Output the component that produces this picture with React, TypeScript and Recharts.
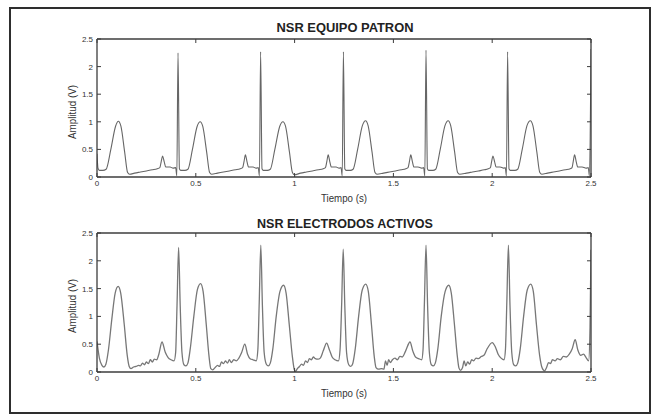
import { LineChart, Line, XAxis, YAxis } from "recharts";

// Tiempo (s) / Amplitud (V) ticks
const timeTicks = [0, 0.5, 1, 1.5, 2, 2.5];
const ampTicks = [0, 0.5, 1, 1.5, 2, 2.5];

// [tiempo, amplitud] - NSR EQUIPO PATRON
const patronPoints: [number, number][] = [
  [0.0, 0.42], [0.005, 0.16], [0.012, 0.12], [0.03, 0.12], [0.046, 0.14], [0.07, 0.5],
  [0.094, 0.92], [0.108, 1.01], [0.121, 0.92], [0.14, 0.45], [0.155, 0.08], [0.165, 0.05],
  [0.19, 0.07], [0.22, 0.09], [0.25, 0.11], [0.28, 0.13], [0.305, 0.15], [0.318, 0.17],
  [0.325, 0.28], [0.332, 0.38], [0.34, 0.28], [0.348, 0.18], [0.37, 0.18], [0.385, 0.16],
  [0.398, 0.17], [0.404, 0.02], [0.41, 2.25], [0.417, 0.15], [0.424, 0.12],

  [0.445, 0.12], [0.46, 0.14], [0.483, 0.5], [0.507, 0.92], [0.522, 1.0], [0.535, 0.92],
  [0.555, 0.45], [0.57, 0.08], [0.58, 0.05], [0.61, 0.07], [0.64, 0.09], [0.67, 0.11],
  [0.7, 0.13], [0.725, 0.15], [0.737, 0.17], [0.744, 0.28], [0.751, 0.4], [0.759, 0.28],
  [0.767, 0.18], [0.79, 0.18], [0.805, 0.16], [0.816, 0.17], [0.822, 0.02], [0.828, 2.27],
  [0.835, 0.15], [0.842, 0.12],

  [0.862, 0.12], [0.877, 0.14], [0.9, 0.5], [0.925, 0.92], [0.941, 1.0], [0.954, 0.92],
  [0.974, 0.45], [0.989, 0.08], [0.999, 0.04], [1.03, 0.07], [1.06, 0.09], [1.09, 0.11],
  [1.12, 0.13], [1.145, 0.15], [1.156, 0.17], [1.163, 0.28], [1.17, 0.4], [1.178, 0.28],
  [1.186, 0.18], [1.21, 0.18], [1.225, 0.16], [1.235, 0.17], [1.241, 0.02], [1.247, 2.27],
  [1.254, 0.15], [1.261, 0.12],

  [1.282, 0.12], [1.296, 0.14], [1.319, 0.5], [1.343, 0.93], [1.359, 1.02], [1.372, 0.93],
  [1.392, 0.45], [1.407, 0.08], [1.417, 0.05], [1.45, 0.07], [1.48, 0.09], [1.51, 0.11],
  [1.54, 0.13], [1.563, 0.15], [1.574, 0.17], [1.581, 0.28], [1.588, 0.4], [1.596, 0.28],
  [1.604, 0.18], [1.625, 0.18], [1.643, 0.16], [1.653, 0.17], [1.659, 0.02], [1.665, 2.3],
  [1.672, 0.15], [1.679, 0.12],

  [1.7, 0.12], [1.714, 0.14], [1.737, 0.5], [1.761, 0.93], [1.777, 1.02], [1.79, 0.93],
  [1.81, 0.45], [1.825, 0.08], [1.835, 0.05], [1.87, 0.07], [1.9, 0.09], [1.93, 0.11],
  [1.96, 0.13], [1.98, 0.15], [1.991, 0.17], [1.997, 0.28], [2.004, 0.38], [2.012, 0.28],
  [2.02, 0.18], [2.04, 0.18], [2.058, 0.16], [2.066, 0.17], [2.072, 0.02], [2.078, 2.27],
  [2.085, 0.15], [2.092, 0.12],

  [2.115, 0.12], [2.129, 0.14], [2.152, 0.5], [2.176, 0.93], [2.193, 1.02], [2.206, 0.93],
  [2.226, 0.45], [2.241, 0.08], [2.251, 0.05], [2.28, 0.07], [2.31, 0.09], [2.34, 0.11],
  [2.37, 0.13], [2.395, 0.15], [2.404, 0.17], [2.41, 0.28], [2.417, 0.4], [2.425, 0.28],
  [2.433, 0.18], [2.455, 0.18], [2.475, 0.16], [2.486, 0.17], [2.492, 0.02], [2.5, 2.32],
];

// NSR ELECTRODOS ACTIVOS
const activosPoints: [number, number][] = [
  [0.0, 0.55], [0.012, 0.25], [0.025, 0.12], [0.035, 0.09], [0.045, 0.14], [0.058, 0.4],
  [0.075, 0.95], [0.092, 1.42], [0.107, 1.54], [0.12, 1.42], [0.138, 0.85], [0.153, 0.3],
  [0.163, 0.1], [0.172, 0.06], [0.185, 0.09], [0.198, 0.1], [0.21, 0.12], [0.22, 0.11],
  [0.23, 0.16], [0.24, 0.13], [0.25, 0.18], [0.26, 0.15], [0.27, 0.22], [0.28, 0.18],
  [0.29, 0.23], [0.302, 0.22], [0.313, 0.32], [0.329, 0.54], [0.345, 0.36], [0.36, 0.26],
  [0.375, 0.22], [0.39, 0.2], [0.398, 0.35], [0.405, 1.2], [0.413, 2.24], [0.421, 1.2],
  [0.43, 0.35], [0.44, 0.13], [0.45, 0.11],

  [0.46, 0.16], [0.472, 0.42], [0.49, 1.0], [0.508, 1.48], [0.524, 1.59], [0.537, 1.45],
  [0.553, 0.85], [0.567, 0.28], [0.576, 0.06], [0.586, 0.04], [0.598, 0.08], [0.61, 0.12],
  [0.62, 0.1], [0.63, 0.18], [0.64, 0.15], [0.65, 0.2], [0.66, 0.16], [0.67, 0.22],
  [0.68, 0.17], [0.692, 0.22], [0.705, 0.2], [0.718, 0.25], [0.732, 0.35], [0.748, 0.5],
  [0.762, 0.32], [0.775, 0.24], [0.79, 0.22], [0.806, 0.2], [0.814, 0.4], [0.821, 1.25],
  [0.829, 2.28], [0.837, 1.2], [0.846, 0.35], [0.857, 0.14], [0.867, 0.11],

  [0.877, 0.16], [0.89, 0.42], [0.907, 1.0], [0.926, 1.45], [0.944, 1.56], [0.957, 1.42],
  [0.973, 0.85], [0.988, 0.3], [0.998, 0.05], [1.004, 0.01], [1.014, 0.06], [1.025, 0.1],
  [1.035, 0.14], [1.045, 0.12], [1.055, 0.2], [1.065, 0.17], [1.075, 0.24], [1.085, 0.22],
  [1.095, 0.27], [1.105, 0.24], [1.118, 0.23], [1.13, 0.25], [1.145, 0.38], [1.162, 0.52],
  [1.176, 0.4], [1.19, 0.27], [1.205, 0.22], [1.222, 0.2], [1.23, 0.4], [1.238, 1.2],
  [1.246, 2.21], [1.254, 1.2], [1.263, 0.35], [1.274, 0.13], [1.284, 0.1],

  [1.294, 0.15], [1.307, 0.42], [1.324, 1.0], [1.342, 1.47], [1.36, 1.58], [1.373, 1.45],
  [1.389, 0.85], [1.403, 0.28], [1.412, 0.08], [1.425, 0.05], [1.44, 0.06], [1.452, 0.05],
  [1.46, 0.2], [1.468, 0.12], [1.476, 0.22], [1.485, 0.17], [1.495, 0.22], [1.508, 0.25],
  [1.52, 0.22], [1.533, 0.28], [1.545, 0.27], [1.562, 0.38], [1.584, 0.54], [1.598, 0.38],
  [1.612, 0.27], [1.628, 0.24], [1.643, 0.22], [1.65, 0.4], [1.657, 1.25], [1.665, 2.28],
  [1.673, 1.2], [1.682, 0.35], [1.692, 0.13], [1.702, 0.11],

  [1.712, 0.16], [1.725, 0.42], [1.742, 1.0], [1.762, 1.45], [1.78, 1.56], [1.793, 1.42],
  [1.809, 0.85], [1.823, 0.3], [1.832, 0.07], [1.84, 0.03], [1.85, 0.08], [1.858, 0.2],
  [1.866, 0.11], [1.876, 0.18], [1.886, 0.14], [1.896, 0.22], [1.906, 0.2], [1.918, 0.25],
  [1.93, 0.24], [1.945, 0.28], [1.958, 0.3], [1.972, 0.4], [2.0, 0.53], [2.015, 0.46],
  [2.03, 0.32], [2.045, 0.25], [2.06, 0.22], [2.067, 0.4], [2.074, 1.25], [2.082, 2.28],
  [2.09, 1.2], [2.099, 0.35], [2.109, 0.13], [2.119, 0.11],

  [2.129, 0.16], [2.142, 0.42], [2.159, 1.0], [2.177, 1.47], [2.195, 1.58], [2.208, 1.45],
  [2.224, 0.85], [2.24, 0.3], [2.252, 0.08], [2.265, 0.02], [2.275, 0.08], [2.285, 0.17],
  [2.295, 0.15], [2.305, 0.22], [2.318, 0.2], [2.33, 0.24], [2.345, 0.22], [2.36, 0.28],
  [2.375, 0.27], [2.39, 0.32], [2.405, 0.42], [2.42, 0.58], [2.433, 0.4], [2.448, 0.3],
  [2.462, 0.32], [2.475, 0.26], [2.488, 0.2], [2.495, 0.8], [2.5, 2.2],
];

const FONT = '"Liberation Sans", Arial, sans-serif';
const AXIS = "#3c3c3c";
const TICK_LEN = 4;

// matlab-style ticks: lines point into the box, labels outside
function BottomTick({ x, y, payload }: any) {
  return (
    <g>
      <line x1={x} y1={y} x2={x} y2={y - TICK_LEN} stroke={AXIS} />
      <text x={x} y={y + 9} textAnchor="middle" fontSize={8} fill="#333" fontFamily={FONT}>
        {payload.value}
      </text>
    </g>
  );
}

function TopTick({ x, y }: any) {
  return <line x1={x} y1={y} x2={x} y2={y + TICK_LEN} stroke={AXIS} />;
}

function LeftTick({ x, y, payload }: any) {
  return (
    <g>
      <line x1={x} y1={y} x2={x + TICK_LEN} y2={y} stroke={AXIS} />
      <text x={x - 4} y={y + 3} textAnchor="end" fontSize={8} fill="#333" fontFamily={FONT}>
        {payload.value}
      </text>
    </g>
  );
}

function RightTick({ x, y }: any) {
  return <line x1={x} y1={y} x2={x - TICK_LEN} y2={y} stroke={AXIS} />;
}

interface PanelProps {
  points: [number, number][];
  height: number;
  margin: { top: number; right: number; bottom: number; left: number };
  stroke: string;
  strokeWidth: number;
}

// axes are 1px thick so recharts still draws them; margins absorb that pixel
function EcgPanel({ points, height, margin, stroke, strokeWidth }: PanelProps) {
  const data = points.map(([t, v]) => ({ t, v }));
  const axisLine = { stroke: AXIS, strokeWidth: 1.3 };
  const shared = {
    type: "number" as const,
    domain: [0, 2.5],
    interval: 0 as const,
    tickSize: 0,
    tickMargin: 0,
    tickLine: false,
    axisLine,
    allowDataOverflow: true,
  };
  return (
    <LineChart width={657} height={height} data={data} margin={margin}>
      <XAxis {...shared} xAxisId="b" dataKey="t" ticks={timeTicks} height={1} tick={BottomTick} />
      <XAxis {...shared} xAxisId="t" orientation="top" dataKey="t" ticks={timeTicks} height={1} tick={TopTick} />
      <YAxis {...shared} yAxisId="l" ticks={ampTicks} width={1} tick={LeftTick} />
      <YAxis {...shared} yAxisId="r" orientation="right" ticks={ampTicks} width={1} tick={RightTick} />
      <Line
        xAxisId="b"
        yAxisId="l"
        type="monotone"
        dataKey="v"
        stroke={stroke}
        strokeWidth={strokeWidth}
        dot={false}
        isAnimationActive={false}
      />
    </LineChart>
  );
}

export default function App() {
  return (
    <div
      style={{
        position: "absolute",
        left: 0,
        top: 0,
        width: 657,
        height: 418,
        background: "#fff",
        overflow: "hidden",
      }}
    >
      <div
        style={{
          position: "absolute",
          left: 9,
          top: 7,
          width: 642,
          height: 407,
          boxSizing: "border-box",
          border: "2px solid #2e2e2e",
        }}
      />
      <div style={{ position: "absolute", left: 0, top: 0 }}>
        <EcgPanel
          points={patronPoints}
          height={200}
          margin={{ top: 38, right: 65, bottom: 22, left: 96 }}
          stroke="#666"
          strokeWidth={1.1}
        />
      </div>
      <div style={{ position: "absolute", left: 0, top: 200 }}>
        <EcgPanel
          points={activosPoints}
          height={218}
          margin={{ top: 32, right: 65, bottom: 45, left: 96 }}
          stroke="#777"
          strokeWidth={1.3}
        />
      </div>
      <svg
        width={657}
        height={418}
        style={{ position: "absolute", left: 0, top: 0, pointerEvents: "none" }}
        fontFamily={FONT}
      >
        <text x={345} y={32} textAnchor="middle" fontSize={13} fontWeight="bold" fill="#222"
          textLength={137} lengthAdjust="spacingAndGlyphs">
          NSR EQUIPO PATRON
        </text>
        <text x={344} y={202} textAnchor="middle" fontSize={10} fill="#333"
          textLength={46} lengthAdjust="spacingAndGlyphs">
          Tiempo (s)
        </text>
        <text x={76} y={112} textAnchor="middle" fontSize={10} fill="#333" transform="rotate(-90 76 112)"
          textLength={54} lengthAdjust="spacingAndGlyphs">
          Amplitud (V)
        </text>
        <text x={345} y={228} textAnchor="middle" fontSize={13} fontWeight="bold" fill="#222"
          textLength={176} lengthAdjust="spacingAndGlyphs">
          NSR ELECTRODOS ACTIVOS
        </text>
        <text x={344} y={397} textAnchor="middle" fontSize={10} fill="#333"
          textLength={46} lengthAdjust="spacingAndGlyphs">
          Tiempo (s)
        </text>
        <text x={76} y={306} textAnchor="middle" fontSize={10} fill="#333" transform="rotate(-90 76 306)"
          textLength={54} lengthAdjust="spacingAndGlyphs">
          Amplitud (V)
        </text>
      </svg>
    </div>
  );
}
